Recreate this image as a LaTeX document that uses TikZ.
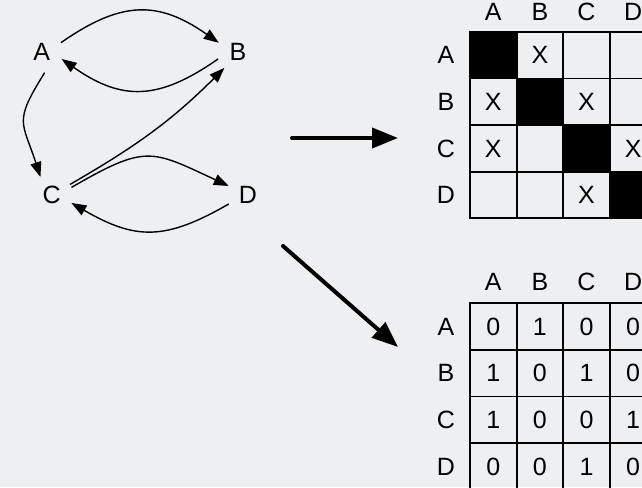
\documentclass[tikz,border=0pt]{standalone}
\usepackage{fontspec}
\setmainfont{Liberation Sans}
\usepackage{tikz}
\usetikzlibrary{arrows.meta}
\definecolor{bgcol}{RGB}{238,239,241}

\begin{document}
\begin{tikzpicture}[x=1pt, y=1pt,
      every node/.style={font=\fontsize{25}{29}\selectfont},
      vertex/.style={shape=circle, minimum size=42pt, inner sep=0pt},
      edge/.style={line width=1.4pt, -{Triangle[length=15pt,width=11pt]}},
      bigarrow/.style={line width=4pt, line cap=round, -{Triangle[length=26pt,width=20pt]}},
      cell/.style={shape=rectangle, draw, line width=1.8pt, minimum size=46.6pt, inner sep=0pt}]
    \useasboundingbox (0,0) rectangle (642,487);
    \clip (0,0) rectangle (642,487);
    \fill[bgcol] (0,0) rectangle (642,487);

    % graph
    \node[vertex] (A) at (41.7,435.3) {A};
    \node[vertex] (B) at (238,435.3) {B};
    \node[vertex] (C) at (51.7,292) {C};
    \node[vertex] (D) at (248,292) {D};

    \draw[edge] (A.25) to[out=35, in=145, looseness=1.2] (B.155);
    \draw[edge] (B.-160) to[out=-145, in=-35, looseness=1.2] (A.-20);
    \draw[edge] (A.-82) to[out=-122, in=108, looseness=1.45] (C.122);
    \draw[edge] (C.30) to[out=30, in=-135] (B.-130);
    \draw[edge] (C.21) to[out=30, in=155, looseness=1.4] (D.155);
    \draw[edge] (D.-155) to[out=-150, in=-30, looseness=1.2] (C.-22);

    % arrows to the two tables
    \coordinate (h-start) at (292,349);
    \coordinate (h-end) at (398,349);
    \coordinate (d-start) at (283,241);
    \coordinate (d-end) at (398,140);
    \draw[bigarrow] (h-start) -- (h-end);
    \draw[bigarrow] (d-start) -- (d-end);

    % labels
    \foreach \lab [count=\i] in {A,B,C,D} {
      \node (tcol-\i) at ({446.7+46.6*\i}, 475) {\lab};
      \node (trow-\i) at (446, {478.3-46.6*\i}) {\lab};
      \node (bcol-\i) at ({446.7+46.6*\i}, 205.3) {\lab};
      \node (brow-\i) at (446, {207-46.6*\i}) {\lab};
    }

    % table with X
    \foreach \r in {1,...,4}
      \foreach \c in {1,...,4}
        \node[cell] (t-\r-\c) at ({446.7+46.6*\c}, {478.3-46.6*\r}) {};
    \foreach \r in {1,...,4}
      \fill (t-\r-\r.south west) rectangle (t-\r-\r.north east);
    \foreach \r/\c in {1/2, 2/1, 2/3, 3/1, 3/4, 4/3}
      \node at (t-\r-\c) {X};

    % table with 0 and 1
    \foreach \vals [count=\r] in {{0,1,0,0},{1,0,1,0},{1,0,0,1},{0,0,1,0}}
      \foreach \v [count=\c] in \vals
        \node[cell] (b-\r-\c) at ({446.7+46.6*\c}, {207-46.6*\r}) {\v};
\end{tikzpicture}
\end{document}
